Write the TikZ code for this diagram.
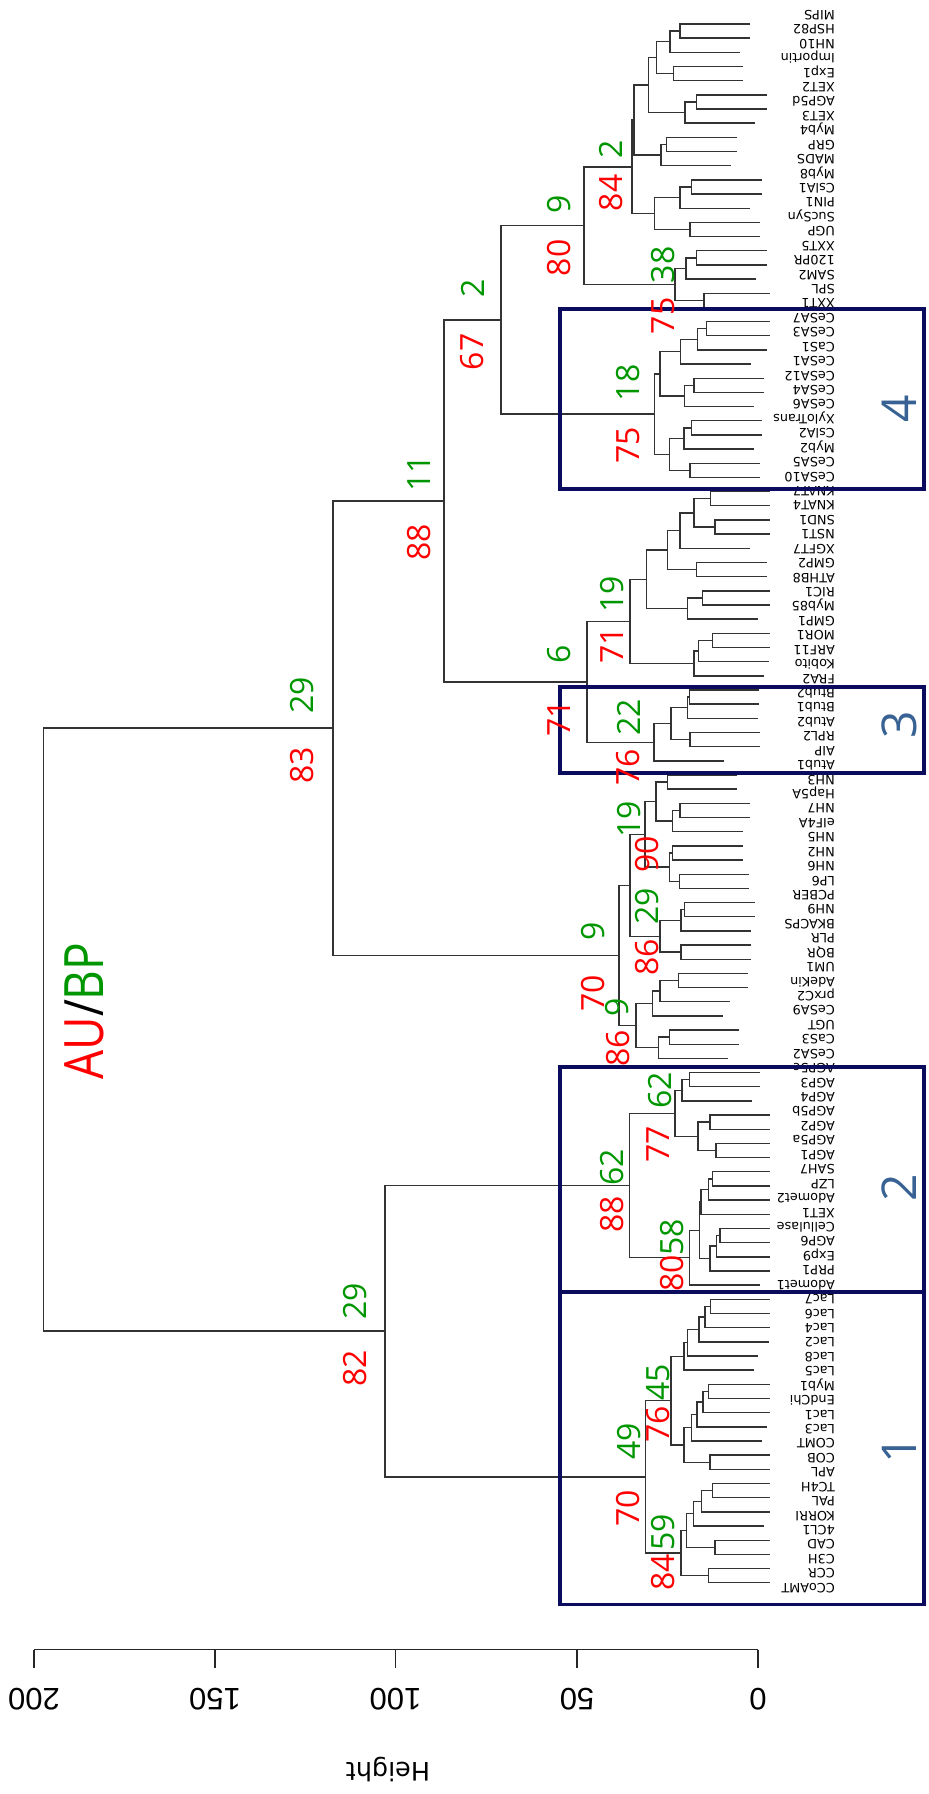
\documentclass[tikz,border=0pt]{standalone}
\usepackage{fontspec}
\usepackage{graphicx}
\setmainfont{DejaVu Sans}
\newfontfamily\opensans{Open Sans}
\newfontfamily\arialfont{Liberation Sans}
\usetikzlibrary{calc}

\definecolor{aured}{RGB}{255,0,0}
\definecolor{bpgreen}{RGB}{0,150,0}
\definecolor{boxnavy}{RGB}{12,12,94}
\definecolor{clusterblue}{RGB}{56,98,148}

\tikzset{
  treeline/.style={draw=black!80, line width=1.4pt},
  axisline/.style={draw=black!85, line width=1.3pt},
  clusterbox/.style={draw=boxnavy, line width=3.8pt},
  leaflab/.style={rotate=180, anchor=base west, inner sep=0pt, font=\fontsize{12.8}{14}\selectfont},
  bp/.style={rotate=90, inner sep=0pt, text=bpgreen, font=\opensans\fontsize{32}{34}\selectfont},
  au/.style={rotate=90, inner sep=0pt, text=aured, font=\opensans\fontsize{32}{34}\selectfont},
  clusterno/.style={rotate=90, inner sep=0pt, text=clusterblue, font=\opensans\fontsize{48}{50}\selectfont},
  ticklab/.style={rotate=180, inner sep=0pt, font=\arialfont\fontsize{31}{32}\selectfont}
}

% join two children at a given height (x in px); leaves hang 70px
\newcommand{\joinpair}[4]{%
  \path let \p1=(#2), \p2=(#3) in coordinate (#1) at (#4pt,{(\y1+\y2)/2});
  \draw[treeline] let \p1=(#2), \p2=(#3),
      \n1={\x1<1 ? min(#4+70,769.5) : \x1},
      \n2={\x2<1 ? min(#4+70,769.5) : \x2}
    in ({\n1*1pt},\y1) -| (#1) |- ({\n2*1pt},\y2);
}

\begin{document}
\begin{tikzpicture}[x=1pt,y=-1pt]
\fill[white] (0,0) rectangle (929,1794);
\useasboundingbox (0,0) rectangle (929,1794);

\foreach \i in {1,...,111}
  \coordinate (L\i) at (0,{24+14.17*(\i-1)});

\joinpair{a1}{L1}{L2}{680}
\joinpair{a2}{a1}{L3}{670}
\joinpair{a3}{L4}{L5}{673.3}
\joinpair{a4}{a2}{a3}{656.7}
\joinpair{a5}{L6}{L7}{696.7}
\joinpair{a6}{a5}{L8}{685}
\joinpair{a7}{a4}{a6}{648.3}
\joinpair{a8}{L9}{L10}{666.7}
\joinpair{a9}{a8}{L11}{661}
\joinpair{a10}{a7}{a9}{634}
\joinpair{a11}{L12}{L13}{691.7}
\joinpair{a12}{a11}{L14}{680}
\joinpair{a13}{L15}{L16}{690}
\joinpair{a14}{a12}{a13}{654.3}
\joinpair{a15}{a10}{a14}{632}
\joinpair{a16}{L17}{L18}{696.7}
\joinpair{a17}{a16}{L19}{686}
\joinpair{a18}{L20}{L21}{704}
\joinpair{a19}{a17}{a18}{675}
\joinpair{a20}{a15}{a19}{584}

\joinpair{b1}{L22}{L23}{706.7}
\joinpair{b2}{b1}{L24}{697.3}
\joinpair{b3}{b2}{L25}{680.7}
\joinpair{b4}{L26}{L27}{694}
\joinpair{b5}{b4}{L28}{684.3}
\joinpair{b6}{b3}{b5}{660}
\joinpair{b7}{L29}{L30}{691.7}
\joinpair{b8}{b7}{L31}{684}
\joinpair{b9}{L32}{L33}{690}
\joinpair{b10}{b8}{b9}{669.3}
\joinpair{b11}{b6}{b10}{654.3}
\joinpair{t1}{a20}{b11}{501}

\joinpair{c1}{L34}{L35}{710.7}
\joinpair{c2}{L36}{L37}{715}
\joinpair{c3}{c1}{c2}{694}
\joinpair{c4}{c3}{L38}{680}
\joinpair{c5}{L39}{L40}{696.7}
\joinpair{c6}{c4}{c5}{667.3}
\joinpair{c7}{L41}{L42}{702.7}
\joinpair{c8}{c7}{L43}{687.7}
\joinpair{c9}{c6}{c8}{646.7}
\joinpair{c10}{L44}{L45}{712.7}
\joinpair{c11}{c10}{L46}{698.5}
\joinpair{c12}{c11}{L47}{694}
\joinpair{c13}{c9}{c12}{630}
\joinpair{d1}{L48}{L49}{689.3}
\joinpair{d2}{d1}{L50}{687.5}
\joinpair{d3}{L51}{L52}{690}
\joinpair{d4}{d2}{d3}{671}
\joinpair{d5}{d4}{L53}{654}
\joinpair{d6}{c13}{d5}{587}
\joinpair{t2}{t1}{d6}{444}

\joinpair{e1}{L54}{L55}{667.3}
\joinpair{e2}{L56}{L57}{680}
\joinpair{e3}{e2}{L58}{672.7}
\joinpair{e4}{e1}{e3}{656}
\joinpair{e5}{L59}{L60}{672.7}
\joinpair{e6}{L61}{L62}{679.3}
\joinpair{e7}{e5}{e6}{669.3}
\joinpair{e8}{e4}{e7}{645}
\joinpair{e9}{L63}{L64}{684.5}
\joinpair{e10}{e9}{L65}{681}
\joinpair{e11}{L66}{L67}{681}
\joinpair{e12}{e10}{e11}{660}
\joinpair{e13}{e8}{e12}{630}
\joinpair{e14}{L68}{L69}{678.3}
\joinpair{e15}{e14}{L70}{660}
\joinpair{e16}{e15}{L71}{652.7}
\joinpair{e17}{L72}{L73}{669.3}
\joinpair{e18}{e17}{L74}{658.3}
\joinpair{e19}{e16}{e18}{636}
\joinpair{e20}{e13}{e19}{619}
\joinpair{t3}{t2}{e20}{333}

\joinpair{f1}{L75}{L76}{689.5}
\joinpair{f2}{f1}{L77}{682}
\joinpair{f3}{L78}{L79}{710}
\joinpair{f4}{L80}{L81}{716}
\joinpair{f5}{f3}{f4}{698}
\joinpair{f6}{f2}{f5}{675}
\joinpair{f7}{L82}{L83}{712.7}
\joinpair{f8}{f7}{L84}{708.3}
\joinpair{f9}{f8}{L85}{701}
\joinpair{f10}{L86}{L87}{720}
\joinpair{f11}{f10}{L88}{716.7}
\joinpair{f12}{f11}{L89}{710}
\joinpair{f13}{f9}{f12}{699.3}
\joinpair{f14}{f13}{L90}{689.5}
\joinpair{f15}{f6}{f14}{629.5}

\joinpair{g1}{L91}{L92}{710.5}
\joinpair{g2}{g1}{L93}{705}
\joinpair{g3}{g2}{L94}{699}
\joinpair{g4}{g3}{L95}{687.5}
\joinpair{g5}{g4}{L96}{684}
\joinpair{g6}{L97}{L98}{708.3}
\joinpair{g7}{g6}{L99}{703}
\joinpair{g8}{g7}{L100}{697}
\joinpair{g9}{g8}{L101}{691.5}
\joinpair{g10}{L102}{L103}{710}
\joinpair{g11}{g9}{g10}{684}
\joinpair{g12}{g5}{g11}{671}
\joinpair{g13}{L104}{L105}{712.5}
\joinpair{g14}{g13}{L106}{701.5}
\joinpair{g15}{g14}{L107}{693.5}
\joinpair{g16}{L108}{L109}{715}
\joinpair{g17}{g15}{g16}{686.5}
\joinpair{g18}{L110}{L111}{708.5}
\joinpair{g19}{g17}{g18}{681}
\joinpair{g20}{g12}{g19}{645.5}
\joinpair{t4}{f15}{g20}{385}
\joinpair{root}{t3}{t4}{43.6}

\foreach \nm [count=\i] in {MIPS,HSP82,NH10,Importin,Exp1,XET2,AGP5d,XET3,Myb4,GRP,
  MADS,Myb8,CslA1,PIN1,SucSyn,UGP,XXT5,120PR,SAM2,SPL,XXT1,CeSA7,CeSA3,CaS1,CeSA1,
  CeSA12,CeSA4,CeSA6,XyloTrans,CslA2,Myb2,CeSA5,CeSA10,KNAT7,KNAT4,SND1,NST1,XGFT7,
  GMP2,ATHB8,RIC1,Myb85,GMP1,MOR1,ARF11,Kobito,FRA2,Btub2,Btub1,Atub2,RPL2,AIP,Atub1,
  NH3,Hap5A,NH7,eIF4A,NH5,NH2,NH6,LP6,PCBER,NH9,BKACPS,PLR,BQR,UM1,AdeKin,prxC2,CeSA9,
  UGT,CaS3,CeSA2,AGP5c,AGP3,AGP4,AGP5b,AGP2,AGP5a,AGP1,SAH7,LZP,Adomet2,XET1,Cellulase,
  AGP6,Exp9,PRP1,Adomet1,Lac7,Lac6,Lac4,Lac2,Lac8,Lac5,Myb1,EndChi,Lac1,Lac3,COMT,COB,
  APL,TC4H,PAL,KORRI,4CL1,CAD,C3H,CCR,CCoAMT}
  \node[leaflab] (lab\i) at (835,{15+14.43*(\i-1)-4.7}) {\nm};

\draw[clusterbox] (560,309.3) rectangle (924,489.3);
\draw[clusterbox] (560,687) rectangle (924,772.7);
\draw[clusterbox] (560,1067) rectangle (924,1292.3);
\draw[clusterbox] (560,1292.3) rectangle (924,1604.5);
\node[clusterno] (cl4) at (899.5,408.5) {4};
\node[clusterno] (cl3) at (899.5,725) {3};
\node[clusterno] (cl2) at (899.5,1187.5) {2};
\node[clusterno] (cl1) at (899.5,1450) {1};

\node[bp] (bp-a15) at (611,149) {2};     \node[au] (au-a15) at (611,193) {84};
\node[bp] (bp-a19) at (663,265) {38};    \node[au] (au-a19) at (663,316) {75};
\node[bp] (bp-a20) at (559,204) {9};     \node[au] (au-a20) at (559,258) {80};
\node[bp] (bp-b11) at (628,383) {18};    \node[au] (au-b11) at (628,445) {75};
\node[bp] (bp-t1) at (472.5,288) {2};    \node[au] (au-t1) at (472.5,352) {67};
\node[bp] (bp-c13) at (612,594) {19};    \node[au] (au-c13) at (612,645) {71};
\node[bp] (bp-d5) at (629,717) {22};     \node[au] (au-d5) at (628,767) {76};
\node[bp] (bp-d6) at (559,654.5) {6};    \node[au] (au-d6) at (559,718) {71};
\node[bp] (bp-t2) at (419.5,473) {11};   \node[au] (au-t2) at (419.5,542) {88};
\node[bp] (bp-e8) at (629,819) {19};     \node[au] (au-e8) at (647,854) {90};
\node[bp] (bp-e12) at (647,906) {29};    \node[au] (au-e12) at (647,957.5) {86};
\node[bp] (bp-e19) at (617.5,1007.5) {9};\node[au] (au-e19) at (618,1048) {86};
\node[bp] (bp-e20) at (593,931) {9};     \node[au] (au-e20) at (593,993) {70};
\node[bp] (bp-t3) at (302.5,695) {29};   \node[au] (au-t3) at (302.5,765) {83};
\node[bp] (bp-f6) at (660,1090) {62};    \node[au] (au-f6) at (658,1144) {77};
\node[bp] (bp-f14) at (672.5,1237) {58}; \node[au] (au-f14) at (672.5,1273) {80};
\node[bp] (bp-f15) at (612,1167) {62};   \node[au] (au-f15) at (612,1214) {88};
\node[bp] (bp-g12) at (658,1382) {45};   \node[au] (au-g12) at (658,1424) {76};
\node[bp] (bp-g19) at (663,1532) {59};   \node[au] (au-g19) at (663,1572.5) {84};
\node[bp] (bp-g20) at (629,1441) {49};   \node[au] (au-g20) at (628,1508) {70};
\node[bp] (bp-t4) at (355.5,1301.5) {29};\node[au] (au-t4) at (355.5,1368) {82};

\node[rotate=90, inner sep=0pt, font=\opensans\fontsize{46}{50}\selectfont] (aubp) at (84.5,1011)
  {\scalebox{1}[1.18]{\textcolor{aured}{AU}/\textcolor{bpgreen}{BP}}};

\foreach \h/\xx in {200/34,150/215,100/395.5,50/577,0/758} {
  \coordinate (tick\h) at (\xx,1649.5);
  \draw[axisline] (tick\h) -- ++(0,18);
  \node[ticklab] (ticklab\h) at (\xx,1699.3) {\h};
}
\draw[axisline] (tick200) -- (tick0);
\node[rotate=180, inner sep=0pt, font=\fontsize{25.5}{27}\selectfont] (ylab) at (388,1770) {Height};
\end{tikzpicture}
\end{document}
